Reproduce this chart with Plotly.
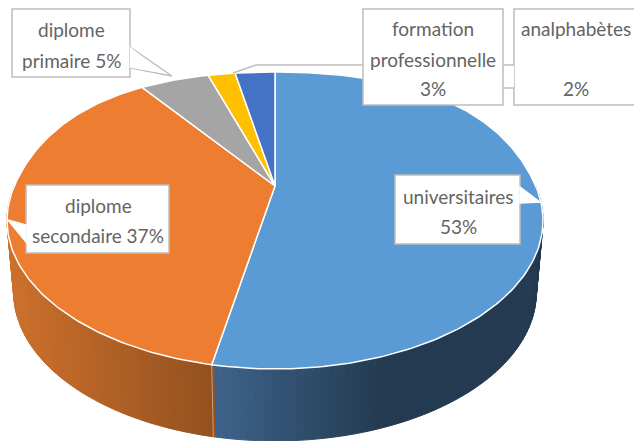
import numpy as np
import plotly.graph_objects as go

categories = ["universitaires", "diplome secondaire", "diplome primaire", "analphabètes", "formation professionnelle"]
values = [53, 37, 5, 2, 3]
colors = ["#5b9bd5", "#ed7d31", "#a5a5a5", "#ffc000", "#4472c4"]

W, H = 634, 441
CX, CY = 275.0, 186.0
K, A, B = 0.232, 260.7, 140.5
BULGE = 0.04
DEPTH, SHRINK = 0.0 + 72.0, 0.975
TEXT = "#646464"
FONT = "Lato"
SIZE = 19


def top(theta):
    theta = np.asarray(theta, dtype=float)
    # the rear half of the disc is slightly fuller than a true projected circle
    r = 1 + BULGE * np.sin(2 * theta) ** 2 * (np.cos(theta) > 0)
    u, w = r * np.sin(theta), -r * np.cos(theta)
    d = 1 - K * w
    return CX + A * u / d, CY + B * w / d


def bottom(theta):
    x, y = top(theta)
    return CX + (x - CX) * SHRINK, y + DEPTH


def mix(c1, c2, t):
    t = min(max(t, 0.0), 1.0)
    return "rgb(%d,%d,%d)" % tuple(round(a + (b - a) * t) for a, b in zip(c1, c2))


edges = np.cumsum([0] + values) / sum(values) * 2 * np.pi
fig = go.Figure()


def poly(x, y, fill, line=None, width=1.0):
    fig.add_trace(go.Scatter(
        x=list(x), y=list(y), mode="lines", fill="toself", fillcolor=fill,
        line=dict(color=line or fill, width=width), hoverinfo="skip", showlegend=False))


# Side wall (only the front part can be seen)
orange_near, orange_far = (204, 112, 44), (146, 80, 30)
blue_near, blue_far = (62, 98, 138), (35, 58, 80)
span0, span1 = np.pi * 0.5, np.pi * 1.5
steps = np.linspace(span0, span1, 130)
for t0, t1 in zip(steps[:-1], steps[1:]):
    mid = (t0 + t1) / 2
    xm = top(mid)[0]
    if mid < edges[1]:
        col = mix(blue_near, blue_far, (215 - xm) / (215 - 385))
    else:
        col = mix(orange_near, orange_far, (xm - 10) / (215 - 10))
    ts = np.array([t0, t1])
    xa, ya = top(ts)
    xb, yb = bottom(ts[::-1])
    poly(np.r_[xa, xb, xa[0]], np.r_[ya, yb, ya[0]], col)

# Seam between the two visible wall colours
sx, sy = top(edges[1]), bottom(edges[1])
fig.add_trace(go.Scatter(x=[sx[0], sy[0]], y=[sx[1], sy[1]], mode="lines",
                         line=dict(color="rgba(255,255,255,0.45)", width=1),
                         hoverinfo="skip", showlegend=False))

# Top face
for i, c in enumerate(colors):
    t = np.linspace(edges[i], edges[i + 1], max(8, values[i] * 4))
    x, y = top(t)
    poly(np.r_[CX, x, CX], np.r_[CY, y, CY], c, "white", 1.5)


def box(x0, y0, x1, y1):
    return dict(type="rect", x0=x0, y0=y0, x1=x1, y1=y1, fillcolor="white",
                line=dict(color="#bdbdbd", width=1.5), layer="above")


def path(d, fill="white", color="#bdbdbd"):
    return dict(type="path", path=d, fillcolor=fill,
                line=dict(color=color, width=1.5), layer="above")


shapes = [
    # analphabetes leader and box
    box(514, 9, 640, 105),
    path("M 503 65 L 514 65 L 514 88 L 503 88 Z", color="rgba(0,0,0,0)"),
    path("M 503 65 L 514 65 M 503 88 L 514 88", fill="rgba(0,0,0,0)"),
    # formation leader and box
    path("M 233 73 L 256 65 L 363 65", fill="rgba(0,0,0,0)"),
    box(363, 9, 503, 105),
    # primaire
    path("M 130 47 L 172 76 L 130 68 Z"),
    box(12, 9, 130, 77),
    path("M 130.5 48 L 130.5 67 L 160 72 Z", color="white"),
    # secondaire
    box(26, 185, 169, 253),
    path("M 26 225 L 8 220 L 26 242 Z", color="white"),
    # universitaires
    box(395, 175, 520, 244),
    path("M 520 187 L 540 202 L 520 203 Z", color="white"),
]

label_text = ["diplome", "primaire 5%", "formation", "professionnelle", "3%", "analphabètes", "2%",
              "diplome", "secondaire 37%", "universitaires", "53%"]
label_x = [71, 71, 433, 433, 433, 576, 576, 98, 98, 458, 458]
label_y = [29, 60, 28, 59, 88, 28, 88, 205, 235, 196, 226]
for x, y, s in zip(label_x, label_y, label_text):
    fig.add_annotation(x=x, y=y, xref="x", yref="y", text=s, showarrow=False,
                       font=dict(family=FONT, size=SIZE, color=TEXT),
                       align="center", xanchor="center", yanchor="middle")

fig.update_layout(
    width=W, height=H, autosize=False, margin=dict(l=0, r=0, t=0, b=0),
    paper_bgcolor="white", plot_bgcolor="white", showlegend=False, shapes=shapes,
    xaxis=dict(range=[0, W], visible=False, fixedrange=True),
    yaxis=dict(range=[H, 0], visible=False, fixedrange=True),
)
fig.write_html("out.html", config=dict(displayModeBar=False),
               post_script="document.body.style.margin='0';document.documentElement.style.overflow='hidden';")
